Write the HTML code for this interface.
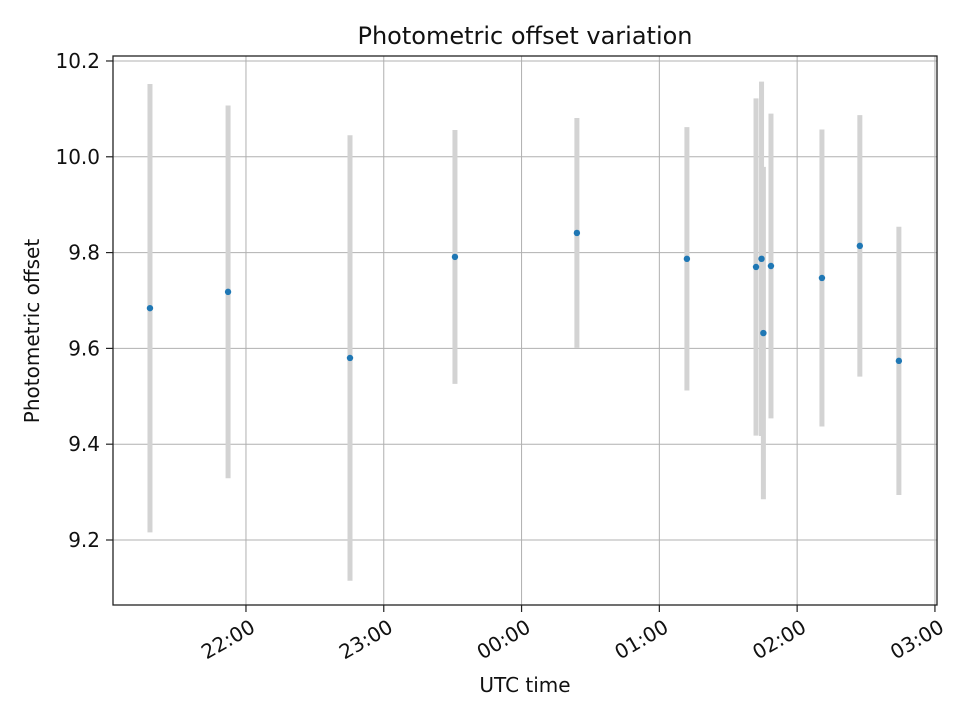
<!DOCTYPE html>
<html><head><meta charset="utf-8"><style>body{margin:0;background:#fff}svg{display:block;font-family:"DejaVu Sans","Liberation Sans",sans-serif}</style></head>
<body>
<svg id="chart" width="960" height="720" xmlns="http://www.w3.org/2000/svg"></svg>
<script>
// minutes since 21:00 UTC
const times = [18.2, 52.2, 105.3, 151, 204.1, 252, 282.1, 284.5, 285.3, 288.6, 310.8, 327.3, 344.3];
const values = [9.684, 9.718, 9.580, 9.791, 9.841, 9.787, 9.770, 9.787, 9.632, 9.772, 9.747, 9.814, 9.574];
const errors = [0.468, 0.389, 0.465, 0.265, 0.24, 0.275, 0.352, 0.37, 0.347, 0.318, 0.31, 0.273, 0.28];
const xTicks = [60, 120, 180, 240, 300, 360];
const xTickLabels = ["22:00", "23:00", "00:00", "01:00", "02:00", "03:00"];
const yTicks = [9.2, 9.4, 9.6, 9.8, 10.0, 10.2];
const yTickLabels = ["9.2", "9.4", "9.6", "9.8", "10.0", "10.2"];

const L=113,R=937,T=56,B=605;
const x0=2.1,x1=360.9,y0=9.0643,y1=10.2104;
const sx=v=>L+(v-x0)/(x1-x0)*(R-L);
const sy=v=>B-(v-y0)/(y1-y0)*(B-T);
const svg=document.getElementById('chart');
const NS='http://www.w3.org/2000/svg';
function mk(tag,attrs,parent){const e=document.createElementNS(NS,tag);for(const k in attrs)e.setAttribute(k,attrs[k]);(parent||svg).appendChild(e);return e;}

const grid=mk('g',{});


xTicks.forEach((t,i)=>{
  const X=sx(t);
  const g=mk('line',{x1:X,x2:X,y1:T,y2:B,stroke:'#b0b0b0','stroke-width':1},grid);
  
  
  const tk=mk('line',{x1:X,x2:X,y1:B,y2:B+7,stroke:'#222','stroke-width':1.2});
  
  
  const px=X+3, py=B+13;
  const tx=mk('text',{x:px,y:py+15,'font-size':20,'text-anchor':'end',fill:'#111',transform:`rotate(-30 ${px} ${py})`});
  tx.textContent=xTickLabels[i];
  
  
});
yTicks.forEach((t,i)=>{
  const Y=sy(t);
  const g=mk('line',{x1:L,x2:R,y1:Y,y2:Y,stroke:'#b0b0b0','stroke-width':1},grid);
  
  
  const tk=mk('line',{x1:L-7,x2:L,y1:Y,y2:Y,stroke:'#222','stroke-width':1.2});
  
  
  const tx=mk('text',{x:L-13,y:Y+7,'font-size':20,'text-anchor':'end',fill:'#111'});
  tx.textContent=yTickLabels[i];
  
  
});
const bars=mk('g',{});


times.forEach((t,i)=>{
  const e=mk('line',{x1:sx(t),x2:sx(t),y1:sy(values[i]+errors[i]),y2:sy(values[i]-errors[i]),stroke:'#d3d3d3','stroke-width':5},bars);
  
  
});
const pts=mk('g',{});


times.forEach((t,i)=>{
  const c=mk('circle',{cx:sx(t),cy:sy(values[i]),r:3.2,fill:'#1f77b4'},pts);
  
  
});
const fr=mk('rect',{x:L,y:T,width:R-L,height:B-T,fill:'none',stroke:'#222','stroke-width':1.3});


const title=mk('text',{x:(L+R)/2,y:44,'font-size':24,'text-anchor':'middle',fill:'#111'});
title.textContent='Photometric offset variation';


const xl=mk('text',{x:(L+R)/2,y:692,'font-size':20,'text-anchor':'middle',fill:'#111'});
xl.textContent='UTC time';


const yl=mk('text',{x:39,y:331,'font-size':20,'text-anchor':'middle',fill:'#111',transform:`rotate(-90 39 331)`});
yl.textContent='Photometric offset';


</script>
</body></html>
